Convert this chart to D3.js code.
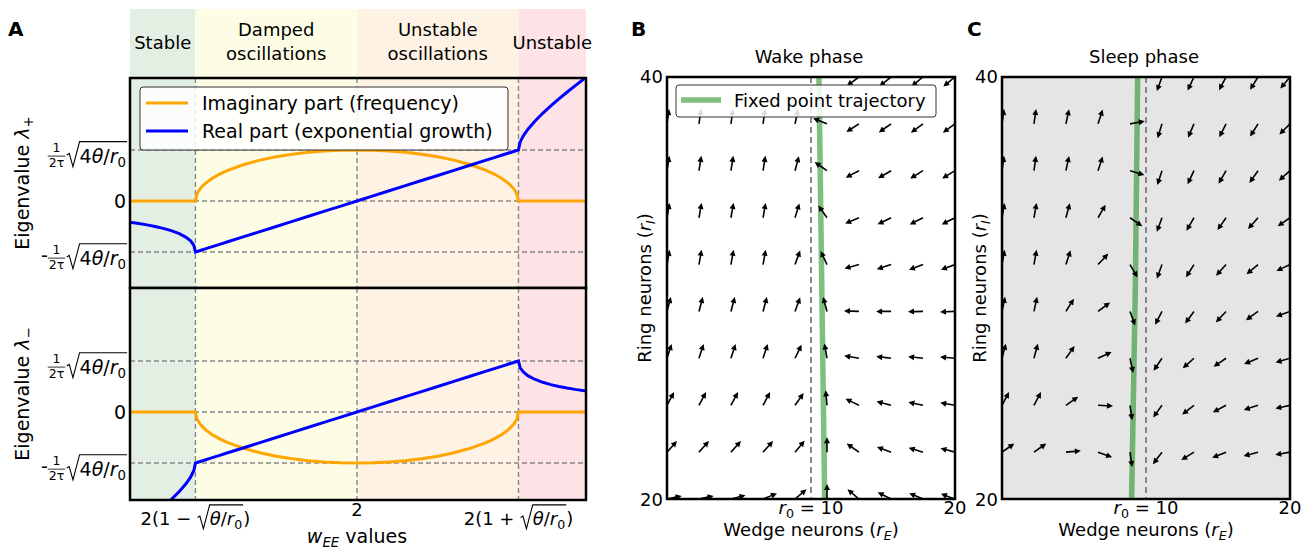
<!DOCTYPE html>
<html>
<head>
<meta charset="utf-8">
<script src="https://cdn.jsdelivr.net/npm/d3@7"></script>
<style>
  body { margin: 0; background: #fff; }
  svg text { font-family: "DejaVu Sans", sans-serif; fill: #000; }
</style>
</head>
<body>
<svg id="fig" width="1302" height="550"></svg>
<script>
// ---- panel A: eigenvalues vs w_EE (x in units of 2*sqrt(theta/r0) around 2) ----
const regionLabels = [['Stable'], ['Damped', 'oscillations'], ['Unstable', 'oscillations'], ['Unstable']];
const regionEdges = [-1.405, -1, 0, 1, 1.418];
const regionColors = ['#e3efe2', '#fdfde5', '#fdf2e3', '#fde3e6'];

const wValues = [-1.405, -1.35, -1.3, -1.25, -1.2, -1.15, -1.1, -1.06, -1.03, -1.01, -1.0,
  -0.99, -0.97, -0.94, -0.9, -0.85, -0.8, -0.7, -0.6, -0.5, -0.4, -0.3, -0.2, -0.1,
  0,
  0.1, 0.2, 0.3, 0.4, 0.5, 0.6, 0.7, 0.8, 0.85, 0.9, 0.94, 0.97, 0.99,
  1.0, 1.01, 1.03, 1.06, 1.1, 1.15, 1.2, 1.25, 1.3, 1.35, 1.418];

const realPlus = [-0.418, -0.443, -0.469, -0.5, -0.537, -0.582, -0.642, -0.708, -0.783, -0.868, -1.0,
  -0.99, -0.97, -0.94, -0.9, -0.85, -0.8, -0.7, -0.6, -0.5, -0.4, -0.3, -0.2, -0.1,
  0,
  0.1, 0.2, 0.3, 0.4, 0.5, 0.6, 0.7, 0.8, 0.85, 0.9, 0.94, 0.97, 0.99,
  1.0, 1.152, 1.277, 1.412, 1.558, 1.718, 1.863, 2.0, 2.131, 2.257, 2.423];

const realMinus = [-2.392, -2.257, -2.131, -2.0, -1.863, -1.718, -1.558, -1.412, -1.277, -1.152, -1.0,
  -0.99, -0.97, -0.94, -0.9, -0.85, -0.8, -0.7, -0.6, -0.5, -0.4, -0.3, -0.2, -0.1,
  0,
  0.1, 0.2, 0.3, 0.4, 0.5, 0.6, 0.7, 0.8, 0.85, 0.9, 0.94, 0.97, 0.99,
  1.0, 0.868, 0.783, 0.708, 0.642, 0.582, 0.537, 0.5, 0.469, 0.443, 0.413];

const imagPlus = [0, 0, 0, 0, 0, 0, 0, 0, 0, 0, 0,
  0.141, 0.243, 0.341, 0.436, 0.527, 0.6, 0.714, 0.8, 0.866, 0.917, 0.954, 0.98, 0.995,
  1,
  0.995, 0.98, 0.954, 0.917, 0.866, 0.8, 0.714, 0.6, 0.527, 0.436, 0.341, 0.243, 0.141,
  0, 0, 0, 0, 0, 0, 0, 0, 0, 0, 0];

const imagMinus = [0, 0, 0, 0, 0, 0, 0, 0, 0, 0, 0,
  -0.141, -0.243, -0.341, -0.436, -0.527, -0.6, -0.714, -0.8, -0.866, -0.917, -0.954, -0.98, -0.995,
  -1,
  -0.995, -0.98, -0.954, -0.917, -0.866, -0.8, -0.714, -0.6, -0.527, -0.436, -0.341, -0.243, -0.141,
  0, 0, 0, 0, 0, 0, 0, 0, 0, 0, 0];

const yTickValues = [-1, 0, 1];
const xTickValues = [-1, 0, 1];

// ---- panels B and C: quiver fields, angle in degrees (0 = right, 90 = up) ----
const gridRE = [0, 2.22, 4.44, 6.67, 8.89, 11.11, 13.33, 15.56, 17.78, 20];
const gridRI = [20, 22.22, 24.44, 26.67, 28.89, 31.11, 33.33, 35.56, 37.78, 40];

// rows go from r_I = 20 (bottom) to r_I = 40 (top)
const wakeAngles = [
  [12, 12, 14, 22, 40, 90, 140, 153, 157, 160],
  [48, 48, 48, 48, 50, 90, 145, 160, 163, 165],
  [62, 62, 62, 62, 55, 95, 154, 165, 168, 170],
  [72, 72, 72, 72, 64, 100, 170, 173, 174, 175],
  [75, 75, 75, 75, 70, 105, 178, 180, 181, 182],
  [80, 80, 80, 80, 70, 115, 195, 198, 200, 200],
  [80, 80, 80, 80, 73, 125, 203, 206, 207, 207],
  [81, 81, 81, 81, 75, 145, 208, 210, 211, 211],
  [82, 82, 82, 82, 78, 158, 213, 215, 216, 216],
  [85, 85, 85, 85, 80, 170, 216, 218, 219, 219]
];

const sleepAngles = [
  [-90, -90, -90, -90, -90, -90, -90, -90, -90, -90],
  [35, 35, 5, -20, -82, 233, 212, 202, 195, 190],
  [62, 62, 35, -3, -82, 234, 218, 208, 198, 192],
  [75, 75, 55, 25, -78, 236, 222, 214, 202, 196],
  [78, 78, 58, 37, -70, 243, 234, 227, 216, 200],
  [80, 80, 72, 47, -60, 250, 238, 228, 220, 205],
  [80, 80, 75, 60, -35, 250, 240, 235, 228, 215],
  [82, 82, 78, 72, -17, 252, 245, 240, 235, 222],
  [82, 82, 78, 72, 10, 253, 247, 243, 238, 225],
  [85, 85, 82, 78, 85, 250, 245, 242, 238, 230]
];

const fixedRI = [20, 30, 40];
const wakeFixedRE = [10.95, 10.75, 10.55];
const sleepFixedRE = [9.0, 9.26, 9.42];

const svg = d3.select('#fig');
svg.append('rect').attr('width', 1302).attr('height', 550).attr('fill', '#fff');

// small layout engine for mathtext-like labels
function mathText(parent, parts, opt) {
  const s = opt.size;
  const g = parent.append('g');
  let cx = 0;
  const open = [];
  const rads = [];
  parts.forEach(p => {
    if (p.rad === 'open') { open.push(cx); cx += s * 0.7; return; }
    if (p.rad === 'close') { rads.push([open.pop(), cx]); cx += 1; return; }
    if (p.frac) {
      const fs = s * 0.66;
      const n = g.append('text').attr('y', -s * 0.58).style('font-size', fs + 'px').text(p.frac[0]);
      const d = g.append('text').attr('y', s * 0.22).style('font-size', fs + 'px').text(p.frac[1]);
      const w = Math.max(n.node().getComputedTextLength(), d.node().getComputedTextLength()) + 2;
      n.attr('x', cx + w / 2).attr('text-anchor', 'middle');
      d.attr('x', cx + w / 2).attr('text-anchor', 'middle');
      g.append('line').attr('x1', cx).attr('x2', cx + w)
        .attr('y1', -s * 0.36).attr('y2', -s * 0.36)
        .attr('stroke', '#000').attr('stroke-width', 0.8);
      cx += w + 1;
      return;
    }
    const fs = p.sub ? s * 0.7 : s;
    const t = g.append('text')
      .attr('x', cx)
      .attr('y', (p.sub ? s * 0.2 : 0) + (p.dy || 0))
      .style('font-size', fs + 'px')
      .style('font-style', p.it ? 'italic' : 'normal')
      .style('white-space', 'pre')
      .text(p.t);
    cx += t.node().getComputedTextLength();
  });
  rads.forEach(([a, b]) => {
    const rw = s * 0.7, top = -s * 1.12;
    g.append('path')
      .attr('d', `M${a + 0.5},${-s * 0.42} L${a + rw * 0.22},${-s * 0.5} L${a + rw * 0.5},${s * 0.2} L${a + rw},${top} L${b + 1},${top}`)
      .attr('fill', 'none').attr('stroke', '#000').attr('stroke-width', 1.1);
  });
  const off = opt.anchor === 'end' ? -cx : opt.anchor === 'middle' ? -cx / 2 : 0;
  g.attr('transform', `translate(${opt.x},${opt.y}) rotate(${opt.rotate || 0}) translate(${off},0)`);
  return g;
}

function sqrtTick(sign) {
  const parts = sign ? [{t: '-', dy: -3}] : [];
  return parts.concat([{frac: ['1', '2τ']}, {rad: 'open'}, {t: '4'}, {t: 'θ', it: true}, {t: '/'},
    {t: 'r', it: true}, {t: '0', sub: true}, {rad: 'close'}]);
}

// ---------------- Panel A ----------------
const xA = d3.scaleLinear().domain([regionEdges[0], regionEdges[4]]).range([130, 586]);
const gA = svg.append('g');

// regime band on top
regionLabels.forEach((lab, i) => {
  const x0 = xA(regionEdges[i]), x1 = xA(regionEdges[i + 1]);
  gA.append('rect').attr('x', x0).attr('y', 9).attr('width', x1 - x0).attr('height', 68)
    .attr('fill', regionColors[i]);
});
regionLabels.forEach((lab, i) => {
  const xc = (xA(regionEdges[i]) + xA(regionEdges[i + 1])) / 2;
  const ys = lab.length === 1 ? [49] : [36, 60];
  lab.forEach((line, j) => {
    gA.append('text').attr('x', xc).attr('y', ys[j]).attr('text-anchor', 'middle')
      .style('font-size', '18px').text(line);
  });
});

const subA = [
  {y: d3.scaleLinear().domain([-1.706, 2.41]).range([288, 78]), top: 78, bottom: 288,
    imag: imagPlus, real: realPlus, sub: '+', legend: true, labelY: 183},
  {y: d3.scaleLinear().domain([-1.725, 2.43]).range([500, 288]), top: 288, bottom: 500,
    imag: imagMinus, real: realMinus, sub: '−', legend: false, labelY: 394}
];

subA.forEach((p, k) => {
  const g = gA.append('g');
  regionColors.forEach((c, i) => {
    g.append('rect').attr('x', xA(regionEdges[i])).attr('y', p.top)
      .attr('width', xA(regionEdges[i + 1]) - xA(regionEdges[i])).attr('height', p.bottom - p.top)
      .attr('fill', c);
  });
  const clipId = 'clipA' + k;
  g.append('clipPath').attr('id', clipId).append('rect')
    .attr('x', 130).attr('y', p.top).attr('width', 456).attr('height', p.bottom - p.top);

  // dashed grid
  xTickValues.forEach(v => {
    g.append('line').attr('x1', xA(v)).attr('x2', xA(v)).attr('y1', p.top).attr('y2', p.bottom)
      .attr('stroke', '#888').attr('stroke-width', 1.4).attr('stroke-dasharray', '5,3');
  });
  yTickValues.forEach(v => {
    g.append('line').attr('x1', 130).attr('x2', 586).attr('y1', p.y(v)).attr('y2', p.y(v))
      .attr('stroke', '#888').attr('stroke-width', 1.4).attr('stroke-dasharray', '5,3');
  });

  const line = d3.line().x((d, i) => xA(wValues[i])).y(d => p.y(d));
  const curves = g.append('g').attr('clip-path', `url(#${clipId})`);
  curves.append('path').attr('d', line(p.imag)).attr('fill', 'none')
    .attr('stroke', '#ffa500').attr('stroke-width', 3);
  curves.append('path').attr('d', line(p.real)).attr('fill', 'none')
    .attr('stroke', '#0000ff').attr('stroke-width', 3);

  g.append('rect').attr('x', 130).attr('y', p.top).attr('width', 456).attr('height', p.bottom - p.top)
    .attr('fill', 'none').attr('stroke', '#000').attr('stroke-width', 2.5);

  // y tick labels
  mathText(g, sqrtTick(false), {x: 127, y: p.y(1) + 13, size: 19, anchor: 'end'});
  g.append('text').attr('x', 126).attr('y', p.y(0) + 7).attr('text-anchor', 'end')
    .style('font-size', '19px').text('0');
  mathText(g, sqrtTick(true), {x: 127, y: p.y(-1) + 13, size: 19, anchor: 'end'});

  // y axis title
  mathText(g, [{t: 'Eigenvalue '}, {t: 'λ', it: true}, {t: p.sub, sub: true}],
    {x: 29, y: p.labelY, size: 19, anchor: 'middle', rotate: -90});

  if (p.legend) {
    const lg = g.append('g');
    lg.append('rect').attr('x', 140).attr('y', 87).attr('width', 368).attr('height', 63).attr('rx', 3)
      .attr('fill', '#fff').attr('fill-opacity', 0.85).attr('stroke', '#333').attr('stroke-width', 1);
    [['Imaginary part (frequency)', '#ffa500'], ['Real part (exponential growth)', '#0000ff']].forEach((e, i) => {
      const yy = 103 + i * 28;
      lg.append('line').attr('x1', 146).attr('x2', 188).attr('y1', yy).attr('y2', yy)
        .attr('stroke', e[1]).attr('stroke-width', 3);
      lg.append('text').attr('x', 202).attr('y', yy + 7).style('font-size', '19px').text(e[0]);
    });
  }
});

// x tick labels and title for panel A
mathText(gA, [{t: '2(1 − '}, {rad: 'open'}, {t: 'θ', it: true}, {t: '/'}, {t: 'r', it: true},
  {t: '0', sub: true}, {rad: 'close'}, {t: ')'}], {x: xA(-1), y: 525, size: 18, anchor: 'middle'});
gA.append('text').attr('x', xA(0)).attr('y', 516).attr('text-anchor', 'middle')
  .style('font-size', '18px').text('2');
mathText(gA, [{t: '2(1 + '}, {rad: 'open'}, {t: 'θ', it: true}, {t: '/'}, {t: 'r', it: true},
  {t: '0', sub: true}, {rad: 'close'}, {t: ')'}], {x: xA(1), y: 525, size: 18, anchor: 'middle'});
mathText(gA, [{t: 'w', it: true}, {t: 'EE', it: true, sub: true}, {t: ' values'}],
  {x: xA(0), y: 543, size: 19, anchor: 'middle'});

// ---------------- Panels B, C ----------------
function drawField(cfg) {
  const g = svg.append('g');
  const xs = d3.scaleLinear().domain([0, 20]).range([cfg.x0, cfg.x1]);
  const ys = d3.scaleLinear().domain([20, 40]).range([499, 77]);
  const w = cfg.x1 - cfg.x0, h = 499 - 77;

  g.append('rect').attr('x', cfg.x0).attr('y', 77).attr('width', w).attr('height', h).attr('fill', cfg.bg);
  g.append('clipPath').attr('id', cfg.id).append('rect')
    .attr('x', cfg.x0).attr('y', 77).attr('width', w).attr('height', h);
  const inner = g.append('g').attr('clip-path', `url(#${cfg.id})`);

  inner.append('line').attr('x1', xs(10)).attr('x2', xs(10)).attr('y1', 77).attr('y2', 499)
    .attr('stroke', '#888').attr('stroke-width', 2).attr('stroke-dasharray', '6,4');

  const fixedLine = d3.line().x((d, i) => xs(d)).y((d, i) => ys(fixedRI[i]));
  inner.append('path').attr('d', fixedLine(cfg.fixed)).attr('fill', 'none')
    .attr('stroke', 'green').attr('stroke-opacity', 0.5).attr('stroke-width', 5.5);

  // quiver arrows, pivot at tail
  const L = 15, hl = 6, hw = 3, sw = 0.8;
  const arrowPath = `M0,${-sw} L${L - hl},${-sw} L${L - hl},${-hw} L${L},0 L${L - hl},${hw} L${L - hl},${sw} L0,${sw} Z`;
  cfg.angles.forEach((row, r) => {
    row.forEach((a, c) => {
      inner.append('path').attr('d', arrowPath).attr('fill', '#000')
        .attr('transform', `translate(${xs(gridRE[c])},${ys(gridRI[r])}) rotate(${-a})`);
    });
  });

  g.append('rect').attr('x', cfg.x0).attr('y', 77).attr('width', w).attr('height', h)
    .attr('fill', 'none').attr('stroke', '#000').attr('stroke-width', 2.5);

  // ticks
  g.append('text').attr('x', cfg.x0 - 4).attr('y', 83).attr('text-anchor', 'end').style('font-size', '18px').text('40');
  g.append('text').attr('x', cfg.x0 - 4).attr('y', 506).attr('text-anchor', 'end').style('font-size', '18px').text('20');
  g.append('text').attr('x', xs(20)).attr('y', 514).attr('text-anchor', 'middle').style('font-size', '18px').text('20');
  mathText(g, [{t: 'r', it: true}, {t: '0', sub: true}, {t: ' = 10'}], {x: xs(10), y: 514, size: 18, anchor: 'middle'});

  // titles and labels
  g.append('text').attr('x', (cfg.x0 + cfg.x1) / 2 - 2).attr('y', 63).attr('text-anchor', 'middle')
    .style('font-size', '18px').text(cfg.title);
  mathText(g, [{t: 'Wedge neurons ('}, {t: 'r', it: true}, {t: 'E', it: true, sub: true}, {t: ')'}],
    {x: (cfg.x0 + cfg.x1) / 2, y: 536, size: 18, anchor: 'middle'});
  mathText(g, [{t: 'Ring neurons ('}, {t: 'r', it: true}, {t: 'I', it: true, sub: true}, {t: ')'}],
    {x: cfg.x0 - 16, y: 288, size: 18, anchor: 'middle', rotate: -90});

  if (cfg.legend) {
    const lg = g.append('g');
    lg.append('rect').attr('x', 676).attr('y', 85).attr('width', 260).attr('height', 32).attr('rx', 3)
      .attr('fill', '#fff').attr('fill-opacity', 0.85).attr('stroke', '#333').attr('stroke-width', 1);
    lg.append('line').attr('x1', 681).attr('x2', 721).attr('y1', 100).attr('y2', 100)
      .attr('stroke', 'green').attr('stroke-opacity', 0.5).attr('stroke-width', 5.5);
    lg.append('text').attr('x', 734).attr('y', 107).style('font-size', '18px').text('Fixed point trajectory');
  }
}

drawField({id: 'clipB', x0: 667, x1: 955, bg: '#fff', title: 'Wake phase', angles: wakeAngles,
  fixed: wakeFixedRE, legend: true});
drawField({id: 'clipC', x0: 1002, x1: 1290, bg: '#e5e5e5', title: 'Sleep phase', angles: sleepAngles,
  fixed: sleepFixedRE, legend: false});

// panel letters
[['A', 8], ['B', 631], ['C', 967]].forEach(([t, x]) => {
  svg.append('text').attr('x', x).attr('y', 36).style('font-size', '20px').style('font-weight', 'bold').text(t);
});
</script>
</body>
</html>
